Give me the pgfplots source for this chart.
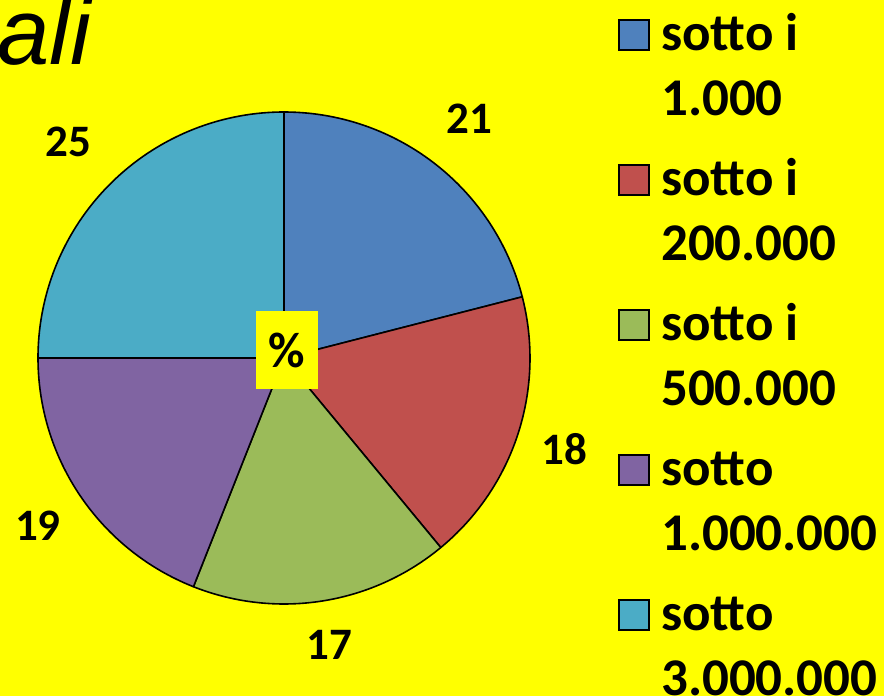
\documentclass[border=0pt]{standalone}
\usepackage{fontspec}
\setmainfont{Carlito}
\newfontfamily\titlefont{Liberation Sans}
\usepackage{pgfplots}
\pgfplotsset{compat=1.18}
\usepgfplotslibrary{polar}

\definecolor{pieblue}{HTML}{4F81BD}
\definecolor{piered}{HTML}{C0504D}
\definecolor{piegreen}{HTML}{9BBB59}
\definecolor{piepurple}{HTML}{8064A2}
\definecolor{piecyan}{HTML}{4BACC6}
\definecolor{bg}{HTML}{FFFF00}

\begin{document}
\begin{tikzpicture}[x=1pt,y=1pt]
\fill[bg] (0,0) rectangle (884,696);
\clip (0,0) rectangle (884,696);
\useasboundingbox (0,0) rectangle (884,696);
\node[anchor=base west, inner sep=0pt, font=\titlefont\itshape\fontsize{94}{94}\selectfont] at (-3,631) {ali};
\begin{polaraxis}[
  at={(284pt,338pt)}, anchor=center,
  scale only axis, width=492pt, height=492pt,
  ymin=0, ymax=1, xmin=0, xmax=360,
  hide axis, clip=false,
]
\xdef\startang{90}
% value / colour / label distance
\foreach \v/\c/\r in {21/pieblue/1.23,18/piered/1.20,17/piegreen/1.18,19/piepurple/1.21,25/piecyan/1.24}{
  \pgfmathsetmacro\endang{\startang-3.6*\v}
  \pgfmathsetmacro\midang{(\startang+\endang)/2}
  \edef\tmp{
    \noexpand\addplot[fill=\c, draw=black, line width=1.6pt, line join=round,
      domain=\endang:\startang, samples=90] {1} -- (axis cs:0,0) -- cycle;
    \noexpand\node[font=\noexpand\bfseries\noexpand\fontsize{45}{45}\noexpand\selectfont]
      at (axis cs:\midang,\r) {\v};
  }
  \tmp
  \xdef\startang{\endang}
}
\end{polaraxis}
\node[fill=bg, minimum width=62pt, minimum height=78pt, inner sep=0pt,
  font=\bfseries\fontsize{50}{50}\selectfont] at (287,346) {\%};
% legend, two lines per entry
\foreach \c/\a/\b [count=\i from 0] in {pieblue/sotto i/1.000, piered/sotto i/200.000,
    piegreen/sotto i/500.000, piepurple/sotto/1.000.000, piecyan/sotto/3.000.000}{
  \pgfmathsetmacro\yb{645-145*\i}
  \draw[fill=\c, line width=1.5pt] (619,\yb+1) rectangle ++(30,30);
  \node[anchor=base west, inner sep=0pt, font=\bfseries\fontsize{53}{53}\selectfont] at (661,\yb) {\a};
  \node[anchor=base west, inner sep=0pt, font=\bfseries\fontsize{53}{53}\selectfont] at (661,\yb-65) {\b};
}
\end{tikzpicture}
\end{document}
